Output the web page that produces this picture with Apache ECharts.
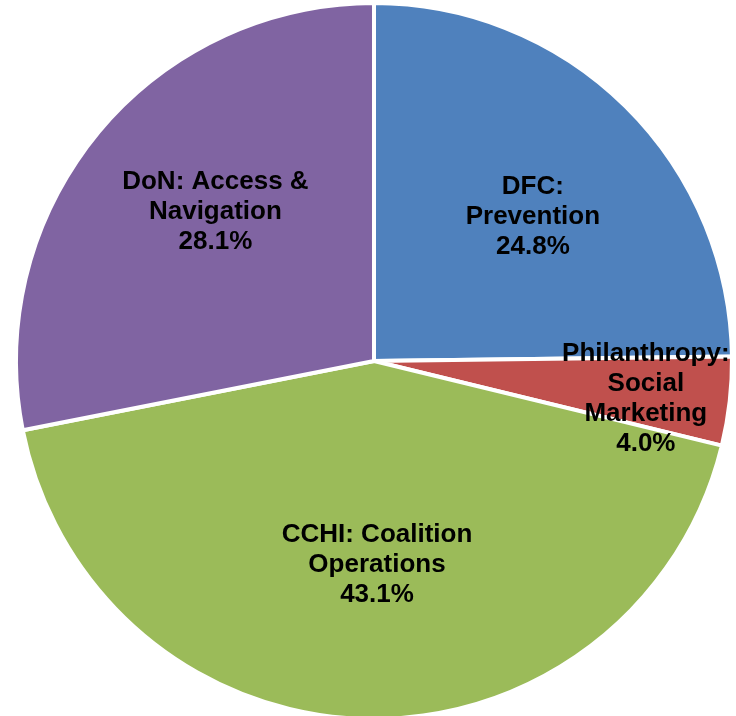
<!DOCTYPE html>
<html>
<head>
<meta charset="utf-8">
<script src="https://cdn.jsdelivr.net/npm/echarts@6/dist/echarts.min.js"></script>
<style>
  html, body { margin: 0; padding: 0; background: #fff; }
  #chart { width: 736px; height: 716px; }
</style>
</head>
<body>
<div id="chart"></div>
<script>
// slice names (label text) and shares, clockwise from 12 o'clock
var categories = [
  "DFC:\nPrevention",
  "Philanthropy:\nSocial\nMarketing",
  "CCHI: Coalition\nOperations",
  "DoN: Access &\nNavigation"
];
var shares = [24.8, 4.0, 43.1, 28.1];

var colors = ["#4F81BD", "#C0504D", "#9BBB59", "#8064A2"];
// nudges for the in-slice labels, like Excel puts them
var labelShift = [[31, -15], [91, 17], [7, 22], [-18, -34]];

var chart = echarts.init(document.getElementById("chart"));
chart.setOption({
  animation: false,
  color: colors,
  series: [{
    type: "pie",
    center: [374, 361],
    radius: 358,
    startAngle: 90,
    clockwise: true,
    avoidLabelOverlap: false,
    itemStyle: { borderColor: "#fff", borderWidth: 4 },
    label: {
      position: "inside",
      color: "#000",
      fontFamily: "Liberation Sans, Arial, sans-serif",
      fontWeight: "bold",
      fontSize: 26,
      lineHeight: 30,
      align: "center",
      formatter: function (p) {
        return p.name + "\n" + p.value.toFixed(1) + "%";
      }
    },
    labelLine: { show: false },
    labelLayout: function (p) {
      var s = labelShift[p.dataIndex];
      return { dx: s[0], dy: s[1] };
    },
    data: categories.map(function (c, i) {
      return { name: c, value: shares[i] };
    })
  }]
});
</script>
</body>
</html>
